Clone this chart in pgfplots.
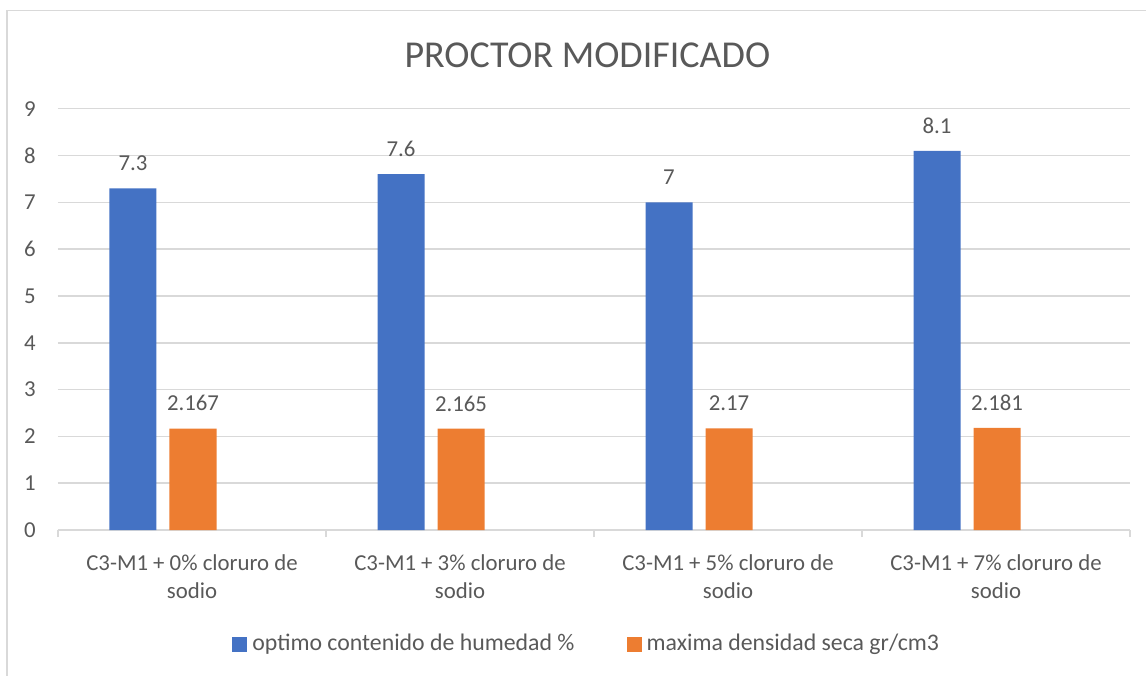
\documentclass[border=0pt]{standalone}
\usepackage{fontspec}
\setmainfont{Carlito}
\usepackage{pgfplots}
\pgfplotsset{compat=1.18}
\definecolor{serA}{HTML}{4472C4}
\definecolor{serB}{HTML}{ED7D31}
\definecolor{txt}{HTML}{595959}
\definecolor{grd}{HTML}{D9D9D9}

\begin{document}
\begin{tikzpicture}
\useasboundingbox (0,0) rectangle (573pt,337.5pt);
% chart frame (only left and top edges are inside the picture)
\draw[grd, line width=0.8pt] (3.4pt,-2pt) -- (3.4pt,332.3pt) -- (576pt,332.3pt);
\node[text=txt, font=\fontsize{19}{22}\selectfont] at (293.7pt,310pt) {PROCTOR MODIFICADO};
\begin{axis}[
    at={(29pt,72.5pt)}, anchor=south west,
    scale only axis, width=536pt, height=210.65pt,
    xmin=-0.5, xmax=3.5, ymin=0, ymax=9,
    ytick={0,1,...,9},
    ymajorgrids, grid style={grd, line width=0.75pt},
    axis line style={draw=none},
    major tick length=0pt,
    xtick={0,1,2,3},
    xticklabels={{C3-M1 + 0\% cloruro de\\sodio},{C3-M1 + 3\% cloruro de\\sodio},
                 {C3-M1 + 5\% cloruro de\\sodio},{C3-M1 + 7\% cloruro de\\sodio}},
    extra x ticks={-0.5,0.5,1.5,2.5,3.5},
    extra x tick labels={},
    extra x tick style={major tick length=3.5pt, tick align=outside, xtick pos=lower,
        grid=none, tick style={grd, line width=0.75pt}},
    xticklabel style={align=center, font=\fontsize{11.4}{14.3}\selectfont, text=txt,
        inner sep=0pt, yshift=-12pt},
    yticklabel style={font=\fontsize{11.4}{14}\selectfont, text=txt, inner sep=0pt, xshift=-11pt},
    /pgf/number format/assume math mode=true,
    ybar,
    nodes near coords={\pgfmathprintnumber[precision=3]{\pgfplotspointmeta}},
    every node near coord/.append style={font=\fontsize{11.4}{14}\selectfont, text=txt,
        inner sep=0pt, anchor=south, yshift=8.5pt},
    legend columns=2,
    legend style={at={(0.1623,-0.2706)}, anchor=west, draw=none, fill=none, inner sep=0pt,
        font=\fontsize{11.9}{14}\selectfont, text=txt, nodes={inner sep=0pt},
        /tikz/every odd column/.append style={column sep=2.5pt},
        /tikz/every even column/.append style={column sep=26pt}},
    legend image code/.code={\fill[#1] (0pt,-3.75pt) rectangle (7.5pt,3.75pt);},
]
\addplot[fill=serA, draw=none, bar width=23.5pt, bar shift=-29.5pt]
    coordinates {(0,7.3) (1,7.6) (2,7) (3,8.1)};
\addplot[fill=serB, draw=none, bar width=23.5pt, bar shift=0.5pt]
    coordinates {(0,2.167) (1,2.165) (2,2.17) (3,2.181)};
\legend{optimo contenido de humedad \%, maxima densidad seca gr/cm3}
\end{axis}
\end{tikzpicture}
\end{document}
